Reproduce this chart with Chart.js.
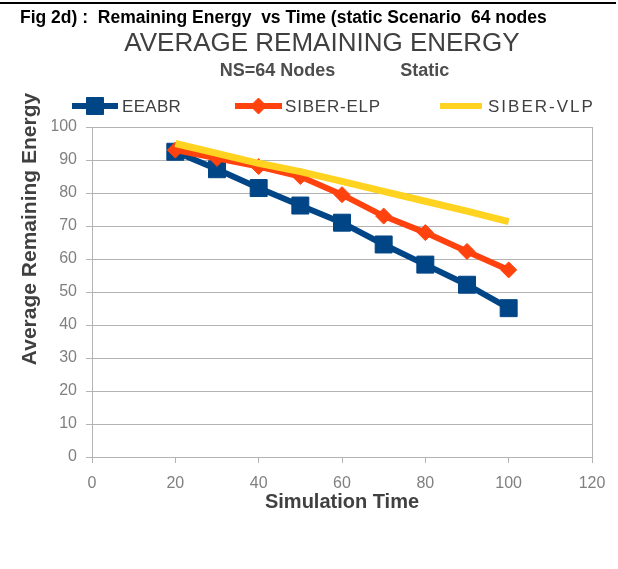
<!DOCTYPE html>
<html>
<head>
<meta charset="utf-8">
<title>Average Remaining Energy</title>
<script src="https://cdn.jsdelivr.net/npm/chart.js"></script>
<style>
  html, body { margin: 0; padding: 0; background: #fff; }
  #wrap { position: relative; width: 618px; height: 569px; }
  #energyChart { position: absolute; left: 0; top: 0; }
  #rule { position: absolute; left: 0; top: 2px; width: 616px; height: 2px; background: #000; }
  #fig { position: absolute; left: 20px; top: 7px; font: bold 17.5px "Liberation Sans", Arial, sans-serif; color: #000; white-space: pre; }
</style>
</head>
<body>
<div id="wrap">
  <canvas id="energyChart" width="618" height="569"></canvas>
  <div id="rule"></div>
  <div id="fig">Fig 2d) :  Remaining Energy  vs Time (static Scenario  64 nodes</div>
</div>
<script>
const times = [20, 30, 40, 50, 60, 70, 80, 90, 100];
const eeabr = [92.5, 87.2, 81.5, 76.2, 71, 64.4, 58.3, 52.2, 45.1];
const siberElp = [93, 90.5, 88, 85, 79.5, 73, 68, 62.3, 56.7];
const siberVlp = [95, 92, 89, 86.5, 83.5, 80.5, 77.5, 74.5, 71.3];
const seriesNames = ["EEABR", "SIBER-ELP", "SIBER-VLP"];

const gridGray = "#b3b3b3";
const textGray = "#404040";
const font = '"Liberation Sans", Arial, sans-serif';

function pts(values) {
  return times.map((t, i) => ({ x: t, y: values[i] }));
}

// legend with line + marker, drawn on the canvas
const lineLegend = {
  id: "lineLegend",
  afterDraw(chart) {
    const ctx = chart.ctx;
    const spots = [
      { x1: 72, x2: 118, tx: 122, ls: 0.3 },
      { x1: 235, x2: 282, tx: 285, ls: 0.8 },
      { x1: 440, x2: 482, tx: 488, ls: 2 }
    ];
    const y = 106;
    ctx.save();
    chart.data.datasets.forEach((ds, i) => {
      const s = spots[i];
      ctx.strokeStyle = ds.borderColor;
      ctx.fillStyle = ds.borderColor;
      ctx.lineWidth = 6;
      ctx.beginPath();
      ctx.moveTo(s.x1, y);
      ctx.lineTo(s.x2, y);
      ctx.stroke();
      if (ds.pointRadius > 0) {
        ctx.lineWidth = 1;
        Chart.helpers.drawPoint(ctx, { pointStyle: ds.pointStyle, radius: ds.pointRadius, rotation: 0, borderWidth: 1 }, (s.x1 + s.x2) / 2, y);
      }
      ctx.fillStyle = textGray;
      ctx.font = "17px " + font;
      ctx.letterSpacing = s.ls + "px";
      ctx.textBaseline = "middle";
      ctx.textAlign = "left";
      ctx.fillText(ds.label, s.tx, y + 1);
    });
    ctx.letterSpacing = "0px";
    // y axis title
    ctx.translate(30, 229);
    ctx.rotate(-Math.PI / 2);
    ctx.font = "bold 21px " + font;
    ctx.textAlign = "center";
    ctx.textBaseline = "middle";
    ctx.fillStyle = textGray;
    ctx.fillText("Average Remaining Energy", 0, 0);
    ctx.restore();
  }
};

new Chart(document.getElementById("energyChart"), {
  type: "scatter",
  data: {
    datasets: [
      {
        label: seriesNames[0],
        data: pts(eeabr),
        showLine: true,
        borderColor: "#004586",
        backgroundColor: "#004586",
        borderWidth: 6,
        pointStyle: "rect",
        pointRadius: 12,
        pointBorderWidth: 1,
        order: 2
      },
      {
        label: seriesNames[1],
        data: pts(siberElp),
        showLine: true,
        borderColor: "#ff420e",
        backgroundColor: "#ff420e",
        borderWidth: 6,
        pointStyle: "rectRot",
        pointRadius: 8,
        pointBorderWidth: 1,
        order: 1
      },
      {
        label: seriesNames[2],
        data: pts(siberVlp),
        showLine: true,
        borderColor: "#ffd320",
        backgroundColor: "#ffd320",
        borderWidth: 7,
        pointRadius: 0,
        order: 0
      }
    ]
  },
  options: {
    responsive: false,
    animation: false,
    events: [],
    layout: { padding: { left: 52, right: 26, top: 28, bottom: 55 } },
    plugins: {
      legend: { display: false },
      tooltip: { enabled: false },
      title: {
        display: true,
        text: "AVERAGE REMAINING ENERGY",
        color: textGray,
        font: { family: font, size: 26, weight: "normal" },
        padding: { top: 0, bottom: 0 }
      },
      subtitle: {
        display: true,
        text: "     NS=64 Nodes             Static",
        color: "#4d4d4d",
        font: { family: font, size: 18, weight: "bold" },
        padding: { top: 1, bottom: 45.2 }
      }
    },
    scales: {
      x: {
        type: "linear",
        min: 0,
        max: 120,
        ticks: { stepSize: 20, color: "#808080", font: { family: font, size: 16 }, padding: 11 },
        grid: {
          color: (c) => (c.tick && c.tick.value === 120 ? gridGray : "rgba(0,0,0,0)"),
          tickColor: gridGray,
          tickLength: 6
        },
        border: { color: gridGray },
        title: {
          display: true,
          text: "Simulation Time",
          color: textGray,
          font: { family: font, size: 20, weight: "bold" },
          padding: 0
        },
        afterFit: (scale) => { scale.height = 57; }
      },
      y: {
        min: 0,
        max: 100,
        ticks: { stepSize: 10, color: "#808080", font: { family: font, size: 16 }, padding: 9 },
        grid: { color: gridGray, tickColor: gridGray, tickLength: 6 },
        border: { color: gridGray },
        afterFit: (scale) => { scale.width = 40; }
      }
    }
  },
  plugins: [lineLegend]
});
</script>
</body>
</html>
